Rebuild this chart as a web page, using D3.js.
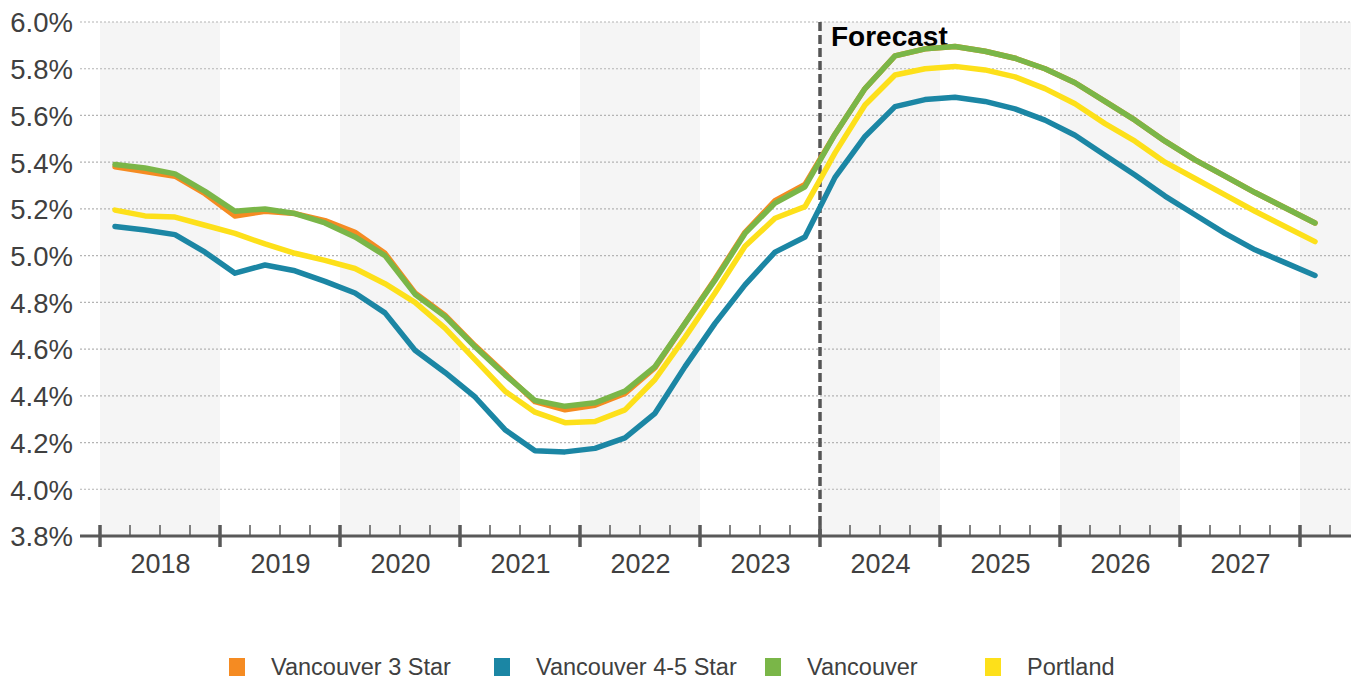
<!DOCTYPE html>
<html>
<head>
<meta charset="utf-8">
<script src="https://cdn.jsdelivr.net/npm/d3@7"></script>
<style>
  body { margin: 0; background: #fff; }
  text { font-family: "Liberation Sans", Arial, sans-serif; fill: #404040; }
</style>
</head>
<body>
<svg id="chart" width="1356" height="684"></svg>
<script>
// quarterly values, 2018 Q1 .. 2028 Q1
const quarters = d3.range(41).map(i => (2018 + Math.floor(i / 4)) + " Q" + (i % 4 + 1));
const years = d3.range(2018, 2028);
const yTicks = [3.8, 4.0, 4.2, 4.4, 4.6, 4.8, 5.0, 5.2, 5.4, 5.6, 5.8, 6.0];
const forecastStart = 2024;

const vancouver3Star = [5.38, 5.36, 5.34, 5.265, 5.17, 5.19, 5.18, 5.15, 5.10, 5.01,
  4.84, 4.745, 4.615, 4.495, 4.375, 4.34, 4.36, 4.41, 4.52, 4.71,
  4.90, 5.10, 5.235, 5.305, 5.52, 5.715, 5.855, 5.885, 5.895, 5.875,
  5.845, 5.80, 5.74, 5.66, 5.58, 5.49, 5.41, 5.34, 5.27, 5.205, 5.14];
const vancouver45Star = [5.125, 5.11, 5.09, 5.015, 4.925, 4.96, 4.935, 4.89, 4.84, 4.755,
  4.595, 4.50, 4.395, 4.255, 4.165, 4.16, 4.175, 4.22, 4.325, 4.525,
  4.71, 4.875, 5.015, 5.08, 5.335, 5.51, 5.638, 5.668, 5.678, 5.66,
  5.628, 5.58, 5.515, 5.43, 5.345, 5.255, 5.175, 5.095, 5.025, 4.97, 4.915];
const vancouver = [5.39, 5.375, 5.35, 5.275, 5.19, 5.20, 5.18, 5.14, 5.08, 5.00,
  4.835, 4.74, 4.61, 4.49, 4.38, 4.355, 4.37, 4.42, 4.525, 4.71,
  4.895, 5.095, 5.225, 5.295, 5.52, 5.715, 5.855, 5.885, 5.895, 5.875,
  5.845, 5.80, 5.74, 5.66, 5.58, 5.49, 5.41, 5.34, 5.27, 5.205, 5.14];
const portland = [5.195, 5.17, 5.165, 5.13, 5.095, 5.05, 5.01, 4.98, 4.945, 4.88,
  4.80, 4.69, 4.555, 4.42, 4.33, 4.285, 4.29, 4.34, 4.47, 4.65,
  4.84, 5.04, 5.16, 5.21, 5.44, 5.645, 5.773, 5.80, 5.81, 5.795,
  5.765, 5.715, 5.65, 5.565, 5.49, 5.40, 5.33, 5.26, 5.19, 5.125, 5.06];

const series = [
  { name: "Vancouver 3 Star", color: "#f58b22", values: vancouver3Star },
  { name: "Vancouver 4-5 Star", color: "#1b86a4", values: vancouver45Star },
  { name: "Vancouver", color: "#7ab648", values: vancouver },
  { name: "Portland", color: "#fde01a", values: portland }
];
// draw order: green above orange
const drawOrder = [0, 1, 3, 2];

const svg = d3.select("#chart");
const plotLeft = 80, plotRight = 1351, plotTop = 22, plotBottom = 536;

const x = d3.scaleLinear().domain([2018, 2028]).range([100, 1300]);
const y = d3.scaleLinear().domain([3.8, 6.0]).range([plotBottom, plotTop]);
const qx = i => x(2018 + (i + 0.5) / 4);

// alternating year bands
const bandYears = d3.range(2018, 2029, 2);
svg.append("g")
  .selectAll("rect")
  .data(bandYears)
  .join("rect")
  .attr("x", d => x(d))
  .attr("y", plotTop)
  .attr("width", d => Math.min(x(d + 1), plotRight) - x(d))
  .attr("height", plotBottom - plotTop)
  .attr("fill", "#f5f5f5");

// grid
svg.append("g")
  .selectAll("line")
  .data(yTicks.slice(1))
  .join("line")
  .attr("x1", plotLeft)
  .attr("x2", plotRight)
  .attr("y1", d => y(d))
  .attr("y2", d => y(d))
  .attr("stroke", "#b4b4b4")
  .attr("stroke-width", 1.2)
  .attr("stroke-dasharray", "2,2");

// y axis labels
const yAxis = svg.append("g")
  .attr("transform", `translate(${plotLeft - 7},0)`)
  .call(d3.axisLeft(y).tickValues(yTicks).tickSize(0).tickPadding(0)
    .tickFormat(d => d.toFixed(1) + "%"));
yAxis.select(".domain").remove();
yAxis.selectAll("text")
  .attr("font-size", 27.5)
  .attr("font-family", "Liberation Sans, Arial, sans-serif")
  .attr("fill", "#404040")
  .attr("dy", "0.36em");

// forecast divider
svg.append("line")
  .attr("x1", x(forecastStart))
  .attr("x2", x(forecastStart))
  .attr("y1", plotTop)
  .attr("y2", plotBottom)
  .attr("stroke", "#555")
  .attr("stroke-width", 3.5)
  .attr("stroke-dasharray", "9,4");

svg.append("text")
  .attr("x", x(forecastStart) + 11)
  .attr("y", 46)
  .attr("font-size", 28)
  .attr("font-weight", "bold")
  .style("fill", "#000")
  .text("Forecast");

// lines
const line = d3.line()
  .x((d, i) => qx(i))
  .y(d => y(d));

svg.append("g")
  .selectAll("path")
  .data(drawOrder.map(k => series[k]))
  .join("path")
  .attr("d", d => line(d.values))
  .attr("fill", "none")
  .attr("stroke", d => d.color)
  .attr("stroke-width", 5.5)
  .attr("stroke-linejoin", "round")
  .attr("stroke-linecap", "round");

// x axis
svg.append("line")
  .attr("x1", plotLeft)
  .attr("x2", plotRight)
  .attr("y1", plotBottom)
  .attr("y2", plotBottom)
  .attr("stroke", "#595959")
  .attr("stroke-width", 3);

const minorTicks = d3.range(2018, 2028.5, 0.25).filter(d => d % 1 !== 0 && x(d) < plotRight);
svg.append("g")
  .selectAll("line")
  .data(minorTicks)
  .join("line")
  .attr("x1", d => x(d))
  .attr("x2", d => x(d))
  .attr("y1", plotBottom - 11)
  .attr("y2", plotBottom)
  .attr("stroke", "#595959")
  .attr("stroke-width", 1.5);

svg.append("g")
  .selectAll("line")
  .data(d3.range(2018, 2029))
  .join("line")
  .attr("x1", d => x(d))
  .attr("x2", d => x(d))
  .attr("y1", plotBottom - 11)
  .attr("y2", plotBottom + 11)
  .attr("stroke", "#595959")
  .attr("stroke-width", 3.5);

const xAxis = svg.append("g")
  .attr("transform", `translate(0,${plotBottom})`)
  .call(d3.axisBottom(x).tickValues(years.map(d => d + 0.5)).tickSize(0).tickPadding(0)
    .tickFormat(d => String(Math.floor(d))));
xAxis.select(".domain").remove();
xAxis.selectAll("text")
  .attr("font-size", 27)
  .attr("font-family", "Liberation Sans, Arial, sans-serif")
  .attr("fill", "#404040")
  .attr("dy", "1.38em");

// legend
const legendX = [229, 494, 765, 985];
const legend = svg.append("g")
  .selectAll("g")
  .data(series)
  .join("g")
  .attr("transform", (d, i) => `translate(${legendX[i]},658)`);
legend.append("rect")
  .attr("width", 16)
  .attr("height", 18)
  .attr("fill", d => d.color);
legend.append("text")
  .attr("x", 42)
  .attr("y", 16.5)
  .attr("font-size", 23.5)
  .text(d => d.name);
</script>
</body>
</html>
